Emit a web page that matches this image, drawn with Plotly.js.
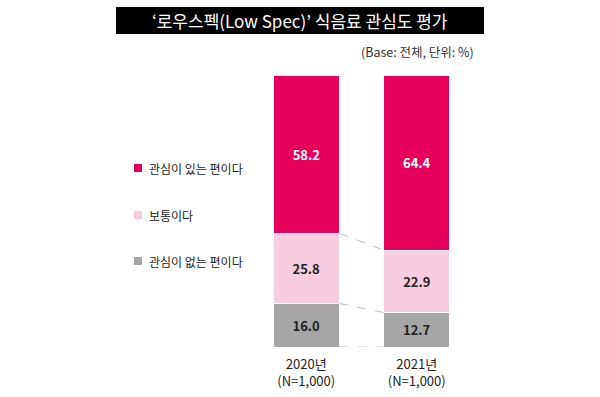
<!DOCTYPE html>
<html><head><meta charset="utf-8">
<script src="https://cdn.plot.ly/plotly-3.0.1.min.js"></script>
<style>html,body{margin:0;padding:0;background:#fff}#c{width:600px;height:397px}</style>
</head><body><div id="c"></div>
<script>
const years = ['2020년<br>(N=1,000)', '2021년<br>(N=1,000)'];
const seriesNames = ['관심이 있는 편이다', '보통이다', '관심이 없는 편이다'];
const interested = [58.2, 64.4];
const neutral = [25.8, 22.9];
const notInterested = [16.0, 12.7];
const colors = ['#E6005C', '#F9CDE0', '#A6A6A6'];
const textColors = ['#FFFFFF', '#222222', '#222222'];

const F = '"Noto Sans CJK KR", "Noto Sans", sans-serif';
const barW = 0.6;
const xs = [0, 1];

const M = {l: 251, r: 128, t: 75, b: 50};
const PW = 600 - M.l - M.r, PH = 397 - M.t - M.b;
const px = v => (v - M.l) / PW;           // pixel x -> paper
const py = v => (397 - M.b - v) / PH;     // pixel y -> paper

// bottom to top
const stack = [
  {name: seriesNames[2], y: notInterested, c: colors[2], t: textColors[2]},
  {name: seriesNames[1], y: neutral, c: colors[1], t: textColors[1]},
  {name: seriesNames[0], y: interested, c: colors[0], t: textColors[0]}
];

const traces = stack.map(s => ({
  type: 'bar', x: xs, y: s.y, name: s.name, width: barW,
  marker: {color: s.c, line: {color: '#FFFFFF', width: 1}},
  texttemplate: '%{y:.1f}', textposition: 'inside', insidetextanchor: 'middle',
  textangle: 0, constraintext: 'none',
  textfont: {family: F, size: 13, color: s.t, weight: 'bold'},
  showlegend: false, hoverinfo: 'skip'
}));

const shapes = [];
const annotations = [];
// connector dashed lines between boundaries
const cum2020 = [0, notInterested[0], notInterested[0] + neutral[0]];
const cum2021 = [0, notInterested[1], notInterested[1] + neutral[1]];
cum2020.forEach((v, i) => {
  shapes.push({type: 'line', xref: 'x', yref: 'y', x0: xs[0] + barW / 2, x1: xs[1] - barW / 2,
    y0: v, y1: cum2021[i], line: {color: '#BFBFBF', width: 1, dash: 'dash'}});
});
// title bar
shapes.push({type: 'rect', xref: 'paper', yref: 'paper', x0: px(116), x1: px(484), y0: py(34), y1: py(7),
  fillcolor: '#000000', line: {width: 0}, layer: 'below'});

// manual legend
const legendY = [168, 215, 261];
seriesNames.forEach((n, i) => {
  shapes.push({type: 'rect', xref: 'paper', yref: 'paper', x0: px(134), x1: px(142),
    y0: py(legendY[i] + 4), y1: py(legendY[i] - 4), fillcolor: colors[i], line: {width: 0}});
  annotations.push({xref: 'paper', yref: 'paper', x: px(147), y: py(legendY[i]), xanchor: 'left', yanchor: 'middle',
    text: n, showarrow: false, font: {family: F, size: 12, color: '#222222'}});
});

annotations.push(
  {xref: 'paper', yref: 'paper', x: px(300), y: py(20.5), xanchor: 'center', yanchor: 'middle',
   text: '‘로우스펙(Low Spec)’ 식음료 관심도 평가', showarrow: false,
   font: {family: F, size: 17, color: '#FFFFFF'}},
  {xref: 'paper', yref: 'paper', x: px(476), y: py(51), xanchor: 'right', yanchor: 'middle',
   text: '(Base: 전체, 단위: %)', showarrow: false,
   font: {family: F, size: 12.5, color: '#333333'}}
);

const layout = {
  width: 600, height: 397,
  margin: M,
  paper_bgcolor: '#FFFFFF', plot_bgcolor: '#FFFFFF',
  barmode: 'stack', showlegend: false,
  font: {family: F, color: '#222222'},
  xaxis: {range: [-0.5, 1.5], tickvals: xs, ticktext: years, showgrid: false, zeroline: false,
    showline: false, ticks: '', ticklabelstandoff: 8,
    tickfont: {family: F, size: 13, color: '#222222'}, fixedrange: true},
  yaxis: {range: [0, 100], visible: false, fixedrange: true},
  shapes: shapes,
  annotations: annotations
};
Plotly.newPlot('c', traces, layout, {displayModeBar: false, staticPlot: true});
</script></body></html>
